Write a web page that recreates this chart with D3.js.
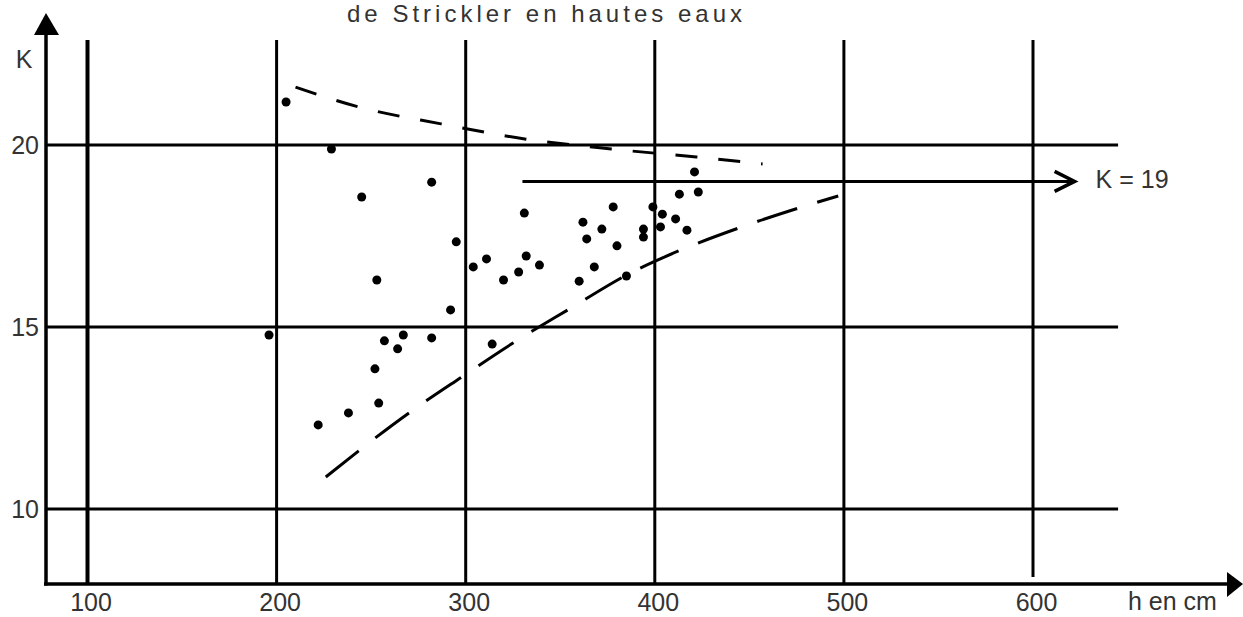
<!DOCTYPE html>
<html>
<head>
<meta charset="utf-8">
<script src="https://cdn.jsdelivr.net/npm/d3@7/dist/d3.min.js"></script>
<style>
body { margin: 0; background: #fff; }
svg text { font-family: "Liberation Sans", Arial, sans-serif; fill: #333; }
</style>
</head>
<body>
<svg id="chart" width="1243" height="617"></svg>
<script>
// tick values
var hTicks = [100, 200, 300, 400, 500, 600];
var kTicks = [10, 15, 20];

// measured points (h en cm, K)
var dotH = [205, 229, 245, 282, 295, 253, 196, 267, 257, 264, 252, 254, 238, 222, 292, 282, 314,
            331, 304, 311, 332, 320, 328, 339, 362, 372, 364, 378, 380, 368, 360, 385,
            394, 394, 399, 404, 403, 411, 417, 421, 413, 423];
var dotK = [21.18, 19.89, 18.57, 18.98, 17.34, 16.29, 14.78, 14.78, 14.62, 14.40, 13.85, 12.91, 12.64, 12.31, 15.47, 14.70, 14.53,
            18.13, 16.65, 16.87, 16.95, 16.29, 16.51, 16.70, 17.88, 17.69, 17.42, 18.30, 17.23, 16.65, 16.26, 16.40,
            17.69, 17.47, 18.30, 18.10, 17.75, 17.97, 17.66, 19.26, 18.65, 18.71];

// upper envelope (dashed)
var upperH = [210, 243, 287, 332, 377, 422, 457];
var upperK = [21.59, 21.05, 20.58, 20.16, 19.89, 19.67, 19.48];

// lower envelope (long dashes)
var lowerH = [226, 270, 298, 325, 354, 387, 414, 446, 478, 497];
var lowerK = [10.88, 12.64, 13.63, 14.56, 15.47, 16.48, 17.12, 17.75, 18.30, 18.60];

// K = 19 reference arrow
var refK = 19;
var refH = [330, 622];
var refLabel = "K = 19";

var svg = d3.select("#chart");

var x = d3.scaleLinear().domain([100, 600]).range([87.5, 1033]);
var y = d3.scaleLinear().domain([10, 20]).range([509, 145]);

var axisX = 46, axisY = 584;
var gridTop = 40, gridRight = x(645);

// title (first line is cut off in the original)
svg.append("text")
  .attr("x", 347)
  .attr("y", 22)
  .attr("font-size", 24)
  .attr("textLength", 395)
  .attr("lengthAdjust", "spacing")
  .text("de Strickler en hautes eaux");

// horizontal grid
svg.selectAll(".hgrid")
  .data(kTicks)
  .enter().append("line")
    .attr("class", "hgrid")
    .attr("x1", axisX)
    .attr("x2", gridRight)
    .attr("y1", function(d) { return y(d); })
    .attr("y2", function(d) { return y(d); })
    .attr("stroke", "#000")
    .attr("stroke-width", 3);

// vertical grid
svg.selectAll(".vgrid")
  .data(hTicks)
  .enter().append("line")
    .attr("class", "vgrid")
    .attr("x1", function(d) { return x(d); })
    .attr("x2", function(d) { return x(d); })
    .attr("y1", gridTop)
    .attr("y2", function(d, i) { return i == hTicks.length - 1 ? axisY - 7 : axisY; })
    .attr("stroke", "#000")
    .attr("stroke-width", function(d, i) { return i == 0 ? 4 : 3; });

// axes with arrows
svg.append("line")
  .attr("x1", axisX).attr("y1", axisY + 1.5)
  .attr("x2", axisX).attr("y2", 30)
  .attr("stroke", "#000").attr("stroke-width", 3.5);
svg.append("path")
  .attr("d", "M" + (axisX - 12) + ",35 L" + axisX + ",13 L" + (axisX + 13) + ",35 Z")
  .attr("fill", "#000");

svg.append("line")
  .attr("x1", axisX - 2).attr("y1", axisY)
  .attr("x2", 1230).attr("y2", axisY)
  .attr("stroke", "#000").attr("stroke-width", 3.5);
svg.append("path")
  .attr("d", "M1227," + (axisY - 12) + " L1243," + axisY + " L1227," + (axisY + 13) + " Z")
  .attr("fill", "#000");

// tick labels
var gx = svg.append("g")
  .attr("transform", "translate(3," + axisY + ")")
  .call(d3.axisBottom(x).tickValues(hTicks).tickSize(0).tickPadding(9).tickFormat(d3.format("d")));
gx.select(".domain").remove();
gx.attr("font-size", 25).attr("font-family", null);

var gy = svg.append("g")
  .attr("transform", "translate(" + axisX + ",0)")
  .call(d3.axisLeft(y).tickValues(kTicks).tickSize(0).tickPadding(7).tickFormat(d3.format("d")));
gy.select(".domain").remove();
gy.attr("font-size", 25).attr("font-family", null);

// axis names
svg.append("text")
  .attr("x", 24).attr("y", 68)
  .attr("text-anchor", "middle")
  .attr("font-size", 25)
  .text("K");
svg.append("text")
  .attr("x", 1128).attr("y", 610)
  .attr("font-size", 25)
  .text("h en cm");

// envelopes
var line = d3.line()
  .x(function(d) { return x(d[0]); })
  .y(function(d) { return y(d[1]); })
  .curve(d3.curveMonotoneX);

svg.append("path")
  .datum(d3.zip(upperH, upperK))
  .attr("d", line)
  .attr("fill", "none")
  .attr("stroke", "#000")
  .attr("stroke-width", 3)
  .attr("stroke-dasharray", "22 21");

svg.append("path")
  .datum(d3.zip(lowerH, lowerK))
  .attr("d", line)
  .attr("fill", "none")
  .attr("stroke", "#000")
  .attr("stroke-width", 3)
  .attr("stroke-dasharray", "42 21");

// K = 19 arrow
svg.append("line")
  .attr("x1", x(refH[0])).attr("x2", x(refH[1]) - 2)
  .attr("y1", y(refK)).attr("y2", y(refK))
  .attr("stroke", "#000").attr("stroke-width", 3);
svg.append("path")
  .attr("d", "M" + (x(refH[1]) - 20) + "," + (y(refK) - 10) +
             " L" + x(refH[1]) + "," + y(refK) +
             " L" + (x(refH[1]) - 20) + "," + (y(refK) + 10))
  .attr("fill", "none")
  .attr("stroke", "#000")
  .attr("stroke-width", 3.5);
svg.append("text")
  .attr("x", x(refH[1]) + 21)
  .attr("y", y(refK) + 7)
  .attr("font-size", 25)
  .text(refLabel);

// points
svg.selectAll(".dot")
  .data(d3.zip(dotH, dotK))
  .enter().append("circle")
    .attr("class", "dot")
    .attr("cx", function(d) { return x(d[0]); })
    .attr("cy", function(d) { return y(d[1]); })
    .attr("r", 4.5)
    .attr("fill", "#000");
</script>
</body>
</html>
